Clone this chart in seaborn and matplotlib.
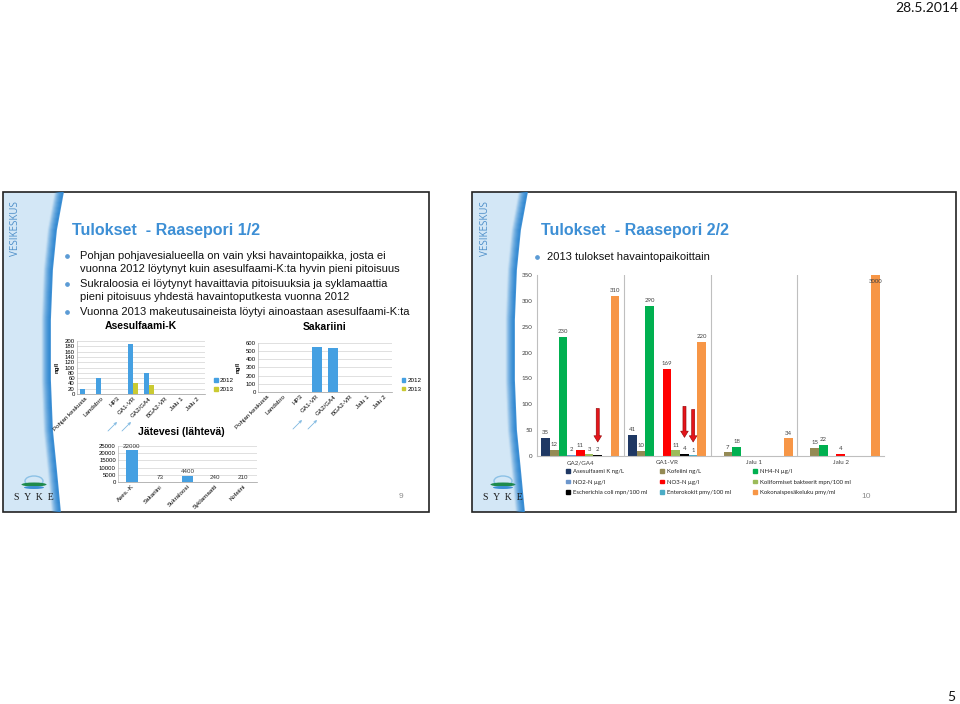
import numpy as np
import pandas as pd
import matplotlib
matplotlib.use("Agg")
import matplotlib.pyplot as plt
import seaborn as sns
from matplotlib.patches import Polygon, Rectangle, Ellipse, Patch

plt.rcParams['font.family'] = ['Liberation Sans', 'DejaVu Sans']

W, H = 960, 704

# ---------------- data ----------------
sites = ["Pohjan keskusta", "Landsbro", "HP3", "GA1-VR", "GA2/GA4", "BGA2-VR", "Jalu 1", "Jalu 2"]
years = ["2012", "2013"]
year_colors = ["#45A0E2", "#CACA32"]
ases_2012 = [20, 60, None, 190, 80, None, None, None]
ases_2013 = [None, None, None, 40, 35, None, None, None]
sakar_2012 = [None, None, None, 550, 540, None, None, None]
sakar_2013 = [None, None, None, None, None, None, None, None]

jv_labels = ["Ases.-K", "Sakariini", "Sukraloosi", "Syklamaatti", "Kofeiini"]
jv_values = [22000, 73, 4400, 240, 210]

groups = ["GA2/GA4", "GA1-VR", "Jalu 1", "Jalu 2"]
series = ["Asesulfaami K ng/L", "Kofeiini ng/L", "NH4-N µg/l", "NO2-N µg/l", "NO3-N µg/l",
          "Koliformiset bakteerit mpn/100 ml", "Escherichia coli mpn/100 ml",
          "Enterokokit pmy/100 ml", "Kokonaispesäkeluku pmy/ml"]
series_colors = ["#1F3864", "#948A54", "#00B050", "#6C96CC", "#FF0000",
                 "#9BBB59", "#000000", "#4BACC6", "#F79646"]
ases_k = [35, 41, None, None]
kofeiini = [12, 10, 7, 15]
nh4 = [230, 290, 18, 22]
no2 = [2, None, None, None]
no3 = [11, 169, None, 4]
kolif = [3, 11, None, None]
ecoli = [2, 4, None, None]
entero = [None, 1, None, None]
kokon = [310, 220, 34, 3000]
series_values = [ases_k, kofeiini, nh4, no2, no3, kolif, ecoli, entero, kokon]

# ---------------- figure ----------------
fig = plt.figure(figsize=(W / 100, H / 100), dpi=100)
fig.patch.set_facecolor("white")
bg = fig.add_axes([0, 0, 1, 1], zorder=0)
bg.set_xlim(0, W)
bg.set_ylim(H, 0)
bg.axis("off")


def fax(x0, y0, x1, y1):
    a = fig.add_axes([x0 / W, 1 - y1 / H, (x1 - x0) / W, (y1 - y0) / H], zorder=2)
    a.set_facecolor("none")
    return a


def slide(x0, y0, x1, y1, off):
    ys = np.array([y0, 230, 270, 320, 380, 430, 470, y1])
    xs = x0 + off + np.array([0, -7, -11, -13, -13, -11, -7, -3])
    pts = [(x0, y0)] + list(zip(xs, ys)) + [(x0, y1)]
    bg.add_patch(Polygon(pts, closed=True, fc="#D3E7F6", ec="none"))
    for d, a in zip(range(0, 9), np.linspace(0.9, 0.05, 9)):
        bg.plot(xs - d, ys, color="#2D86D1", lw=1.3, alpha=a, solid_capstyle="butt")
    bg.add_patch(Rectangle((x0, y0), x1 - x0, y1 - y0, fill=False, ec="#222222", lw=1.2))
    # VESIKESKUS
    bg.text(x0 + 13, y0 + 37, "VESIKESKUS", rotation=90, ha="center", va="center",
            fontsize=7, color="#4E8FC9", family=["Open Sans", "DejaVu Sans"])
    # SYKE logo
    cx = x0 + 31
    bg.add_patch(Ellipse((cx, y1 - 31), 18, 10, fc="none", ec="#8CC1E6", lw=1.0))
    bg.add_patch(Rectangle((cx - 12, y1 - 29), 24, 9, fc="#D3E7F6", ec="none"))
    bg.add_patch(Ellipse((cx, y1 - 27.5), 25, 4, fc="#1F8A4C", ec="none"))
    bg.add_patch(Ellipse((cx, y1 - 24.5), 20, 3, fc="#3D8FD5", ec="none"))
    bg.text(cx, y1 - 14, "S  Y  K  E", ha="center", va="center", fontsize=7,
            family=["Liberation Serif", "DejaVu Serif"], color="#1A1A1A")


slide(3, 192, 429, 512, 60)
slide(472, 192, 956, 512, 55)

title_color = "#3D8FD5"
bg.text(72, 230, "Tulokset  - Raasepori 1/2", fontsize=11.5, weight="bold",
        color=title_color, va="center", ha="left")
bg.text(541, 230, "Tulokset  - Raasepori 2/2", fontsize=11.5, weight="bold",
        color=title_color, va="center", ha="left")

bullet_lines = [(256, "Pohjan pohjavesialueella on vain yksi havaintopaikka, josta ei", True),
                (269, "vuonna 2012 löytynyt kuin asesulfaami-K:ta hyvin pieni pitoisuus", False),
                (284, "Sukraloosia ei löytynyt havaittavia pitoisuuksia ja syklamaattia", True),
                (297, "pieni pitoisuus yhdestä havaintoputkesta vuonna 2012", False),
                (312, "Vuonna 2013 makeutusaineista löytyi ainoastaan asesulfaami-K:ta", True)]
for y, t, b in bullet_lines:
    bg.text(80, y, t, fontsize=8, va="center", ha="left", color="#111111")
    if b:
        bg.plot([67], [y], "o", ms=2.4, color="#5B9BD5")
bg.text(547, 257, "2013 tulokset havaintopaikoittain", fontsize=8, va="center", ha="left",
        color="#111111")
bg.plot([537], [257], "o", ms=2.4, color="#5B9BD5")

# chart titles
bg.text(141, 326, "Asesulfaami-K", fontsize=7.5, weight="bold", ha="center", va="center")
bg.text(325, 327, "Sakariini", fontsize=7.5, weight="bold", ha="center", va="center")
bg.text(181, 432, "Jätevesi (lähtevä)", fontsize=7.5, weight="bold", ha="center", va="center")
bg.text(57, 367, "ng/l", fontsize=4.5, weight="bold", rotation=90, ha="center", va="center")
bg.text(238, 367, "ng/l", fontsize=4.5, weight="bold", rotation=90, ha="center", va="center")

# small arrows under charts
for (x0_, y0_, x1_, y1_) in [(108, 431, 117, 422), (122, 431, 131, 422),
                             (293, 429, 302, 420), (308, 429, 317, 420)]:
    bg.annotate("", xy=(x1_, y1_), xytext=(x0_, y0_),
                arrowprops=dict(arrowstyle="->", color="#7DB7E0", lw=0.6,
                                shrinkA=0, shrinkB=0, mutation_scale=4))

# page numbers / date
bg.text(401, 497, "9", fontsize=6, color="#8C8C8C", ha="center", va="center")
bg.text(866, 497, "10", fontsize=6, color="#8C8C8C", ha="center", va="center")
bg.text(958, 8, "28.5.2014", fontsize=10, ha="right", va="center",
        family=["Lato", "DejaVu Sans"], color="#111111")
bg.text(955, 697, "5", fontsize=10, ha="right", va="center",
        family=["Lato", "DejaVu Sans"], color="#111111")


def style_small(ax, yticks, ymax):
    ax.set_ylim(0, ymax)
    ax.set_yticks(yticks)
    ax.grid(axis="y", color="#C8C8C8", lw=0.4)
    ax.set_axisbelow(True)
    ax.tick_params(axis="both", length=0, labelsize=4.3, pad=1.5)
    for s in ["top", "right"]:
        ax.spines[s].set_visible(False)
    ax.spines["left"].set_color("#BBBBBB")
    ax.spines["left"].set_linewidth(0.5)
    ax.spines["bottom"].set_color("#999999")
    ax.spines["bottom"].set_linewidth(0.5)
    ax.set_xlabel("")
    ax.set_ylabel("")
    for lab in ax.get_xticklabels():
        lab.set_rotation(45)
        lab.set_ha("right")
        lab.set_rotation_mode("anchor")
        lab.set_fontsize(4.5)


def long_df(vals_by_year):
    rows = []
    for y, vals in vals_by_year:
        for s, v in zip(sites, vals):
            if v is not None:
                rows.append((s, y, v))
    return pd.DataFrame(rows, columns=["site", "year", "value"])


pal = dict(zip(years, year_colors))
year_handles = [Patch(color=c, label=y) for y, c in zip(years, year_colors)]

# chart 1
ax1 = fax(77, 341, 205, 394)
df1 = long_df([("2012", ases_2012), ("2013", ases_2013)])
sns.barplot(data=df1, x="site", y="value", hue="year", order=sites, hue_order=years,
            palette=pal, width=0.6, saturation=1, errorbar=None, legend=False, ax=ax1)
style_small(ax1, range(0, 201, 20), 200)
ax1.legend(handles=year_handles, loc="center left", bbox_to_anchor=(1.03, 0.17), frameon=False,
           fontsize=4.5, handlelength=0.6, handleheight=0.6, handletextpad=0.3, labelspacing=0.6)

# chart 2
ax2 = fax(258, 343, 392, 392)
df2 = long_df([("2012", sakar_2012), ("2013", sakar_2013)])
sns.barplot(data=df2, x="site", y="value", hue="year", order=sites, hue_order=years,
            palette=pal, width=0.6, saturation=1, errorbar=None, legend=False, ax=ax2)
style_small(ax2, range(0, 601, 100), 600)
ax2.legend(handles=year_handles, loc="center left", bbox_to_anchor=(1.03, 0.15), frameon=False,
           fontsize=4.5, handlelength=0.6, handleheight=0.6, handletextpad=0.3, labelspacing=0.6)

# chart 3
ax3 = fax(118, 446, 257, 482)
df3 = pd.DataFrame({"label": jv_labels, "value": jv_values})
sns.barplot(data=df3, x="label", y="value", order=jv_labels, color=year_colors[0],
            width=0.42, saturation=1, errorbar=None, ax=ax3)
style_small(ax3, range(0, 25001, 5000), 25000)
for c in ax3.containers:
    for bar in c:
        h = bar.get_height()
        ax3.annotate(f"{h:g}", (bar.get_x() + bar.get_width() / 2, h), xytext=(0, 1.2),
                     textcoords="offset points", ha="center", va="bottom", fontsize=4.5,
                     color="#333333")

# right chart
axr = fax(537, 275, 884, 456)
rows = []
for s, vals in zip(series, series_values):
    for g, v in zip(groups, vals):
        if v is not None:
            rows.append((g, s, v))
dfr = pd.DataFrame(rows, columns=["group", "series", "value"])
spal = dict(zip(series, series_colors))
sns.barplot(data=dfr, x="group", y="value", hue="series", order=groups, hue_order=series,
            palette=spal, width=0.9, saturation=1, errorbar=None, legend=False, ax=axr)
ymax_r = 350
axr.set_ylim(0, ymax_r)
axr.set_yticks(range(0, 351, 50))
axr.set_xlim(-0.5, len(groups) - 0.5)
axr.tick_params(axis="both", length=0, labelsize=4.5, labelcolor="#404040", pad=3)
rfont = ["Lato", "DejaVu Sans"]
for lab in axr.get_xticklabels() + axr.get_yticklabels():
    lab.set_family(rfont)
for s in ["top", "right"]:
    axr.spines[s].set_visible(False)
for s in ["left", "bottom"]:
    axr.spines[s].set_color("#BFBFBF")
    axr.spines[s].set_linewidth(0.8)
axr.set_xlabel("")
axr.set_ylabel("")
for i in range(len(groups) - 1):
    axr.axvline(i + 0.5, color="#BFBFBF", lw=0.8, zorder=0)
for c in axr.containers:
    for bar in c:
        h = bar.get_height()
        x = bar.get_x() + bar.get_width() / 2
        if h > ymax_r:
            axr.text(x, ymax_r - 12, f"{h:g}", ha="center", va="center", fontsize=4.3,
                     color="#404040", family=rfont)
        else:
            axr.annotate(f"{h:g}", (x, h), xytext=(0, 2), textcoords="offset points",
                         ha="center", va="bottom", fontsize=4.3, color="#404040", family=rfont)

# red arrows (annotations) pointing at small bars
n_s = len(series)
bw = 0.9 / n_s
arrow_marks = [("GA2/GA4", "Escherichia coli mpn/100 ml", 92, 27),
               ("GA1-VR", "Escherichia coli mpn/100 ml", 96, 36),
               ("GA1-VR", "Enterokokit pmy/100 ml", 90, 27)]
for g, s, top, tip in arrow_marks:
    x = groups.index(g) - 0.45 + bw * (series.index(s) + 0.5)
    axr.annotate("", xy=(x, tip), xytext=(x, top),
                 arrowprops=dict(arrowstyle="simple,head_length=0.45,head_width=0.55,tail_width=0.22",
                                 fc="#E4151B", ec="#8E0000", lw=0.4, shrinkA=0, shrinkB=0,
                                 mutation_scale=10))

# legend: three columns placed at the reference positions
handles = [Patch(color=c, label=s) for s, c in zip(series, series_colors)]
col_x = [566, 660, 753]
for ci, xpx in enumerate(col_x):
    hs = [handles[ci + 3 * r] for r in range(3)]
    leg = fig.legend(handles=hs, ncol=1, loc="upper left",
                     bbox_to_anchor=(xpx / W, 1 - 469 / H),
                     frameon=False, fontsize=4.3, handlelength=0.6, handleheight=0.6,
                     handletextpad=0.5, labelspacing=0.95, borderpad=0, borderaxespad=0)
    for t in leg.get_texts():
        t.set_family(rfont)
        t.set_color("#222222")

fig.savefig("out.png", dpi=100)
